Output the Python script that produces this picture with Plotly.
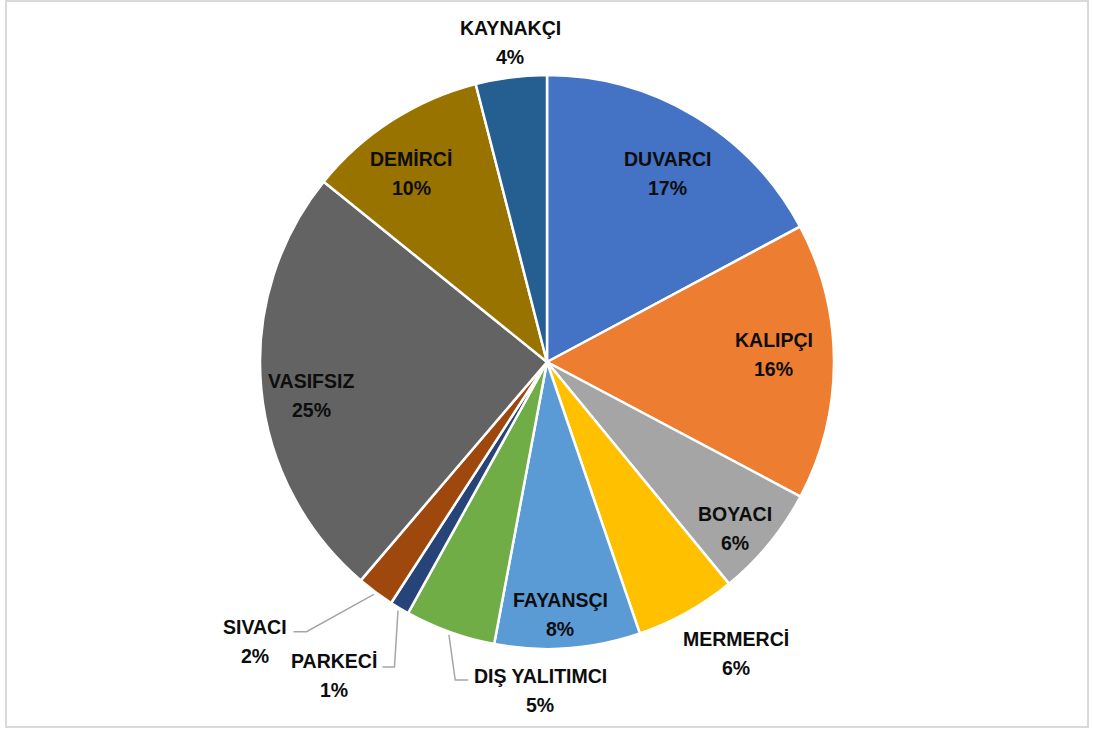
import math
import plotly.graph_objects as go

# data (clockwise from 12 o'clock)
labels = ["DUVARCI", "KALIPÇI", "BOYACI", "MERMERCİ", "FAYANSÇI", "DIŞ YALITIMCI",
          "PARKECİ", "SIVACI", "VASIFSIZ", "DEMİRCİ", "KAYNAKÇI"]
values = [17.2, 15.6, 6.3, 5.7, 8.2, 5.1, 1.1, 2.1, 24.6, 10.2, 4.0]
colors = ["#4472C4", "#ED7D31", "#A5A5A5", "#FFC000", "#5B9BD5", "#70AD47",
          "#264478", "#9E480E", "#636363", "#997300", "#255E91"]

# label layout: radial distance (fraction of radius) and angle nudge (deg)
label_r = [0.78, 0.79, 0.875, 1.21, 0.88, 1.145, 1.32, 1.41, 0.83, 0.81, 1.12]
label_dang = [1.7, -1.8, 2.2, -3.8, 1.1, -18.6, 3.2, 9.6, -2.7, -3.0, 0.6]
# leader lines: slice index -> (elbow offset, end offset) from label centre, px
leaders = {
    5: ((-85, -10.5), (-72, -10.5)),
    6: ((60, -8.5), (48, -8.5)),
    7: ((52, -10), (39, -10)),
}

W, H = 1093, 731
cx, cy, R = 547, 362, 287
FONT = "Arial, Liberation Sans, sans-serif"


def px(x, y):
    return x / W, 1 - y / H


total = sum(values)
pct = [f"{round(v / total * 100)}%" for v in values]

fig = go.Figure(go.Pie(
    labels=labels,
    values=values,
    sort=False,
    direction="clockwise",
    rotation=0,
    marker=dict(colors=colors, line=dict(color="white", width=2.5)),
    textinfo="none",
    hoverinfo="label+percent",
    showlegend=False,
    domain=dict(x=[(cx - R) / W, (cx + R) / W], y=[1 - (cy + R) / H, 1 - (cy - R) / H]),
))

annotations = []
shapes = []
cum = 0
for i, v in enumerate(values):
    mid = (cum + v / 2) / total * 360
    cum += v
    a = math.radians(mid + label_dang[i])
    lx = cx + label_r[i] * R * math.sin(a)
    ly = cy - label_r[i] * R * math.cos(a)
    for txt, dy in ((labels[i], -14.5), (pct[i], 14.5)):
        x, y = px(lx, ly + dy)
        annotations.append(dict(x=x, y=y, xref="paper", yref="paper", text=f"<b>{txt}</b>",
                                showarrow=False, xanchor="center", yanchor="middle",
                                font=dict(family=FONT, size=19.5, color="#0d0d0d")))
    if i in leaders:
        am = math.radians(mid)
        sx, sy = px(cx + 1.01 * R * math.sin(am), cy - 1.01 * R * math.cos(am))
        (ex, ey), (tx, ty) = leaders[i]
        x1, y1 = px(lx + ex, ly + ey)
        x2, y2 = px(lx + tx, ly + ty)
        shapes.append(dict(type="path", xref="paper", yref="paper",
                           path=f"M {sx},{sy} L {x1},{y1} L {x2},{y2}",
                           line=dict(color="#A6A6A6", width=1.5)))

# chart frame
shapes.append(dict(type="rect", xref="paper", yref="paper",
                   x0=6 / W, x1=1088 / W, y0=1 - 727 / H, y1=1 - 1 / H,
                   line=dict(color="#D9D9D9", width=2)))

fig.update_layout(
    width=W, height=H,
    margin=dict(l=0, r=0, t=0, b=0),
    paper_bgcolor="white",
    plot_bgcolor="white",
    annotations=annotations,
    shapes=shapes,
)

fig.write_html("out.html", config={"displayModeBar": False},
               post_script="document.body.style.margin='0';")
